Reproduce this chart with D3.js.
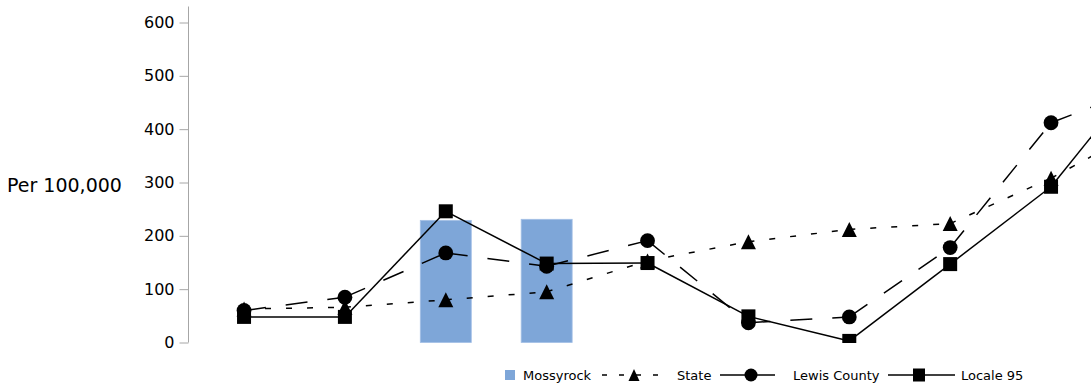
<!DOCTYPE html>
<html>
    <head>
        <script src="https://d3js.org/d3.v7.min.js"></script>
        <style>
            body{ margin:0; background:#fff; }
            text{ font-family:"DejaVu Sans", Verdana, sans-serif; fill:#000; }
        </style>
    </head>
    <body>
        <svg height="386" width="1091" id="chart"></svg>
        <script>
            // values (last group is cut off by the frame)
            const categories=["g1","g2","g3","g4","g5","g6","g7","g8","g9","g10"];
            const mossyrock=[null, null, 229, 231, null, null, null, null, null, null];
            const state=[63, 66, 80, 95, 153, 189, 212, 223, 308, 410];
            const lewis=[60, 85, 168, 143, 191, 37, 48, 178, 412, 485];
            const locale=[48, 48, 246, 148, 149, 49, 3, 147, 292, 527];
            const yTicks=[0, 100, 200, 300, 400, 500, 600];

            let svg=d3.select("#chart");

            let x=d3.scaleBand()
                .domain(categories)
                .range([193.6, 193.6+100.875*categories.length])
                .padding(0);
            let cx=d=>x(d)+x.bandwidth()/2;

            let y=d3.scaleLinear()
                .domain([0, 630])
                .range([342.5, 6.5]);

            // clip to the plot area
            svg.append("defs").append("clipPath").attr("id", "plot")
                .append("rect")
                .attr("x", 189).attr("y", 0)
                .attr("width", 1100).attr("height", 343);

            // y axis
            let yAxis=d3.axisLeft(y).tickValues(yTicks).tickSize(9).tickPadding(5);
            let axisG=svg.append("g")
                .attr("transform", "translate(188.5,0)")
                .call(yAxis);
            axisG.select(".domain")
                .attr("d", "M0,"+y.range()[1]+"V"+y.range()[0])
                .attr("stroke", "#a6a6a6");
            axisG.selectAll(".tick line").attr("stroke", "#a6a6a6");
            axisG.selectAll(".tick text")
                .style("font-family", "DejaVu Sans")
                .style("font-size", "16px")
                .attr("fill", "#000");

            svg.append("text")
                .attr("x", 7)
                .attr("y", 192)
                .style("font-size", "19px")
                .text("Per 100,000");

            let plot=svg.append("g").attr("clip-path", "url(#plot)");

            // Mossyrock bars
            let barData=categories.map((c, i)=>({c:c, v:mossyrock[i]})).filter(d=>d.v!==null);
            plot.selectAll("rect.bar").data(barData)
                .join("rect")
                .attr("class", "bar")
                .attr("x", d=>cx(d.c)-25.5)
                .attr("width", 51)
                .attr("y", d=>y(d.v))
                .attr("height", d=>y(0)-y(d.v))
                .attr("fill", "#7ea6d8")
                .attr("stroke", "#a4c0e6")
                .attr("stroke-width", 0.8);

            const triPath="M0,-7.5L7.5,7.5L-7.5,7.5Z";

            function drawSeries(values, dash, marker){
                let pts=categories.map((c, i)=>[cx(c), y(values[i])]);
                // every segment restarts its dash pattern, as the original does
                let segs=d3.pairs(pts);
                plot.append("g").selectAll("line").data(segs)
                    .join("line")
                    .attr("x1", d=>d[0][0]).attr("y1", d=>d[0][1])
                    .attr("x2", d=>d[1][0]).attr("y2", d=>d[1][1])
                    .attr("stroke", "#000")
                    .attr("stroke-width", 1.5)
                    .attr("stroke-dasharray", dash);
                let g=plot.append("g");
                if(marker=="circle"){
                    g.selectAll("circle").data(pts).join("circle")
                        .attr("cx", d=>d[0]).attr("cy", d=>d[1]).attr("r", 7.4)
                        .attr("fill", "#000");
                }
                else if(marker=="square"){
                    g.selectAll("rect").data(pts).join("rect")
                        .attr("x", d=>d[0]-7).attr("y", d=>d[1]-7)
                        .attr("width", 14).attr("height", 14)
                        .attr("fill", "#000");
                }
                else{
                    g.selectAll("path").data(pts).join("path")
                        .attr("d", triPath)
                        .attr("transform", d=>"translate("+d[0]+","+d[1]+")")
                        .attr("fill", "#000");
                }
            }

            drawSeries(state, "6,15", "triangle");
            drawSeries(lewis, "22,20", "circle");
            drawSeries(locale, null, "square");

            // legend
            let leg=svg.append("g");
            let ly=375;
            leg.append("rect")
                .attr("x", 505).attr("y", ly-5)
                .attr("width", 10).attr("height", 10)
                .attr("fill", "#7ea6d8");
            leg.append("text").attr("x", 523).attr("y", ly+5).style("font-size", "13px").text("Mossyrock");

            leg.append("line")
                .attr("x1", 602).attr("x2", 666).attr("y1", ly).attr("y2", ly)
                .attr("stroke", "#000").attr("stroke-width", 1.3)
                .attr("stroke-dasharray", "5,12");
            leg.append("path")
                .attr("d", "M0,-6L5.5,6L-5.5,6Z")
                .attr("transform", "translate(634,"+ly+")");
            leg.append("text").attr("x", 677).attr("y", ly+5).style("font-size", "13px").text("State");

            leg.append("line")
                .attr("x1", 720).attr("x2", 775).attr("y1", ly).attr("y2", ly)
                .attr("stroke", "#000").attr("stroke-width", 1.3);
            leg.append("circle").attr("cx", 751).attr("cy", ly).attr("r", 6.5);
            leg.append("text").attr("x", 793).attr("y", ly+5).style("font-size", "13px").text("Lewis County");

            leg.append("line")
                .attr("x1", 888).attr("x2", 955).attr("y1", ly).attr("y2", ly)
                .attr("stroke", "#000").attr("stroke-width", 1.3);
            leg.append("rect").attr("x", 913).attr("y", ly-6.5).attr("width", 12).attr("height", 13);
            leg.append("text").attr("x", 961).attr("y", ly+5).style("font-size", "13px").text("Locale 95");
        </script>
    </body>
</html>
